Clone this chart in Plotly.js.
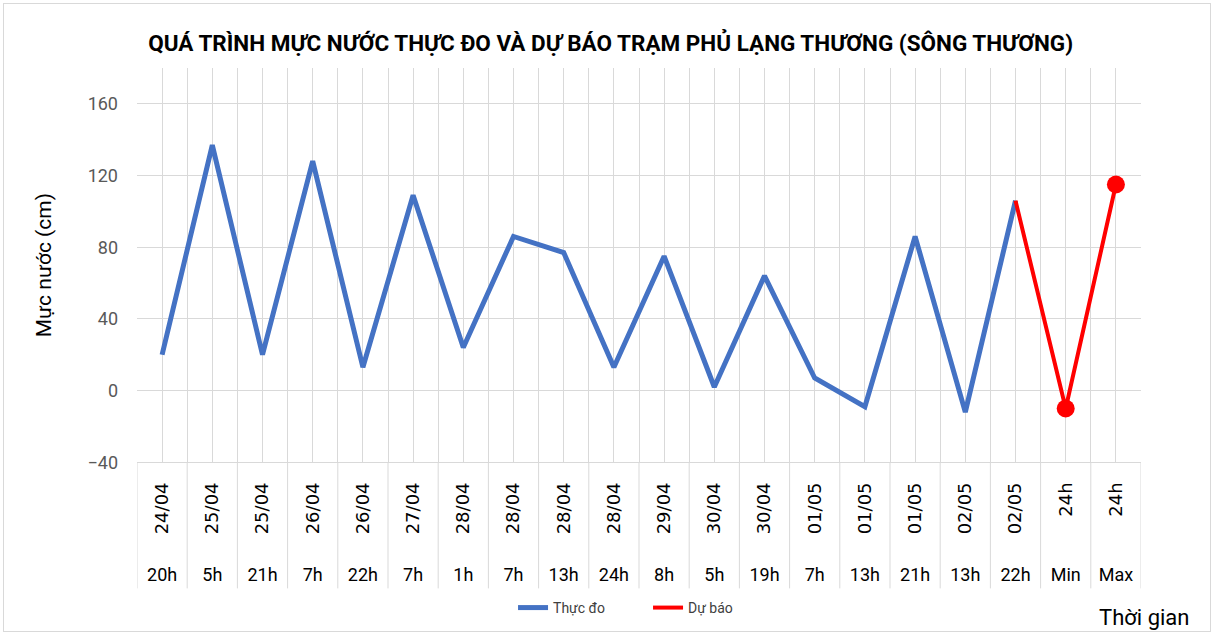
<!DOCTYPE html>
<html><head><meta charset="utf-8">
<script src="https://cdn.plot.ly/plotly-3.0.1.min.js"></script>
<style>
html,body{margin:0;padding:0;background:#fff;}
#wrap{position:absolute;left:3px;top:3px;width:1206px;height:627px;border:1px solid #d9d9d9;}
#chart{position:absolute;left:0;top:0;width:1214px;height:635px;}
</style></head>
<body><div id="wrap"></div><div id="chart"></div>
<script>
const dates = ["24/04","25/04","25/04","26/04","26/04","27/04","28/04","28/04","28/04","28/04","29/04","30/04","30/04","01/05","01/05","01/05","02/05","02/05","24h","24h"];
const hours = ["20h","5h","21h","7h","22h","7h","1h","7h","13h","24h","8h","5h","19h","7h","13h","21h","13h","22h","Min","Max"];
const observed = [20,137,20,128,13,109,24,86,77,13,75,2,64,7,-9,86,-12,106,null,null];
const forecast = [null,null,null,null,null,null,null,null,null,null,null,null,null,null,null,null,null,106,-10,115];
const forecastMarker = [0,0,0,0,0,0,0,0,0,0,0,0,0,0,0,0,0,0,18,18];

const cats = dates.map((d,i)=>d+" "+hours[i]);
const fnt = "Roboto, sans-serif";

const traces = [
  {x:cats, y:observed, name:"Thực đo", mode:"lines", line:{color:"#4472C4", width:5}, xaxis:"x", yaxis:"y"},
  {x:cats, y:forecast, name:"Dự báo", mode:"lines+markers", line:{color:"#FF0000", width:4},
   marker:{color:"#FF0000", size:forecastMarker, opacity:1, line:{width:0}}, xaxis:"x", yaxis:"y"},
  {x:cats, y:cats.map(()=>null), showlegend:false, hoverinfo:"skip", mode:"lines", xaxis:"x2", yaxis:"y"}
];

const shapes = [];
for (let i=0;i<=cats.length;i++){
  shapes.push({type:"line", xref:"x", yref:"paper", x0:i-0.5, x1:i-0.5, y0:0.2575, y1:0.02,
    line:{color:"#d9d9d9", width:1}});
}

const layout = {
  width:1214, height:635,
  margin:{l:137, r:73, t:68, b:35},
  paper_bgcolor:"rgba(0,0,0,0)", plot_bgcolor:"rgba(0,0,0,0)",
  showlegend:true,
  title:{text:"<b>QUÁ TRÌNH MỰC NƯỚC THỰC ĐO VÀ DỰ BÁO TRẠM PHỦ LẠNG THƯƠNG (SÔNG THƯƠNG)</b>",
    font:{family:fnt, size:22.5, color:"#000"}, x:0.503, xanchor:"center", y:0.932, yanchor:"middle", xref:"container"},
  xaxis:{type:"category", domain:[0,1], anchor:"y", tickvals:cats, ticktext:dates, tickangle:-90,
    tickson:"boundaries", showgrid:true, gridcolor:"#d9d9d9", gridwidth:1, ticks:"", showline:true, linecolor:"#d9d9d9",
    ticklabelstandoff:12,
    tickfont:{family:"DejaVu Sans, sans-serif", size:18, color:"#000"}, range:[-0.5,19.5], fixedrange:true},
  xaxis2:{type:"category", overlaying:"x", anchor:"free", position:0.07, side:"bottom", tickvals:cats, ticktext:hours,
    tickangle:0, showgrid:true, gridcolor:"#d9d9d9", gridwidth:1, ticks:"", showline:false, zeroline:false,
    tickfont:{family:fnt, size:18, color:"#000"}, range:[-0.5,19.5], fixedrange:true},
  yaxis:{domain:[0.2575,1], range:[-40,180], tickvals:[-40,0,40,80,120,160], showgrid:true, gridcolor:"#d9d9d9",
    zeroline:false, showline:false, ticks:"", tickfont:{family:fnt, size:18, color:"#595959"}, ticklabelstandoff:18,
    title:{text:"Mực nước (cm)", font:{family:fnt, size:21, color:"#000"}, standoff:30}, fixedrange:true},
  legend:{orientation:"h", x:0.509, xanchor:"center", y:-0.015, yanchor:"middle", font:{family:fnt, size:14, color:"#404040"},
    entrywidth:90, traceorder:"normal"},
  annotations:[{text:"Thời gian", xref:"paper", yref:"paper", x:1.05, y:-0.034, xanchor:"right", yanchor:"middle",
    showarrow:false, font:{family:fnt, size:22, color:"#000"}}],
  shapes:shapes
};
Plotly.newPlot("chart", traces, layout, {displayModeBar:false, staticPlot:true});
</script></body></html>
